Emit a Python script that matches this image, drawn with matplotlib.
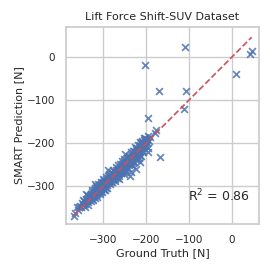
import matplotlib
matplotlib.use("Agg")
import matplotlib.pyplot as plt
import seaborn as sns

# ground truth vs predicted lift force [N]
ground_truth = [
    -368, -366, -360, -357, -352, -350, -348, -345, -343, -341,
    -339, -337, -336, -334, -333, -332, -331, -330, -330, -329,
    -328, -327, -326, -325, -324, -323, -322, -321, -320, -319,
    -318, -317, -316, -315, -314, -313, -312, -311, -310, -310,
    -309, -308, -307, -306, -305, -305, -304, -303, -302, -302,
    -301, -300, -300, -299, -298, -298, -297, -296, -295, -295,
    -294, -293, -292, -291, -290, -290, -289, -288, -287, -286,
    -286, -285, -284, -283, -282, -281, -280, -280, -279, -278,
    -277, -276, -275, -275, -274, -273, -272, -271, -270, -270,
    -269, -268, -267, -266, -265, -265, -264, -263, -262, -261,
    -260, -260, -259, -258, -257, -256, -255, -255, -254, -253,
    -252, -252, -251, -250, -250, -249, -248, -247, -246, -245,
    -245, -244, -243, -242, -241, -240, -240, -239, -238, -238,
    -237, -236, -235, -235, -234, -233, -232, -231, -230, -230,
    -229, -228, -227, -226, -225, -224, -224, -223, -222, -221,
    -220, -219, -218, -217, -216, -215, -214, -213, -212, -211,
    -210, -209, -208, -207, -206, -205, -204, -203, -202, -200,
    -199, -198, -196, -195, -193, -191,
    -362, -355, -347, -344, -338, -335, -327, -325, -320, -318,
    -315, -312, -308, -306, -303, -300, -297, -294, -291, -288,
    -285, -283, -280, -277, -274, -271, -268, -266, -263, -261,
    -258, -256, -253, -251, -248, -246, -243, -241, -238, -236,
    -233, -231, -228, -226, -222, -220, -218, -215, -212, -210,
    -207, -204, -200, -197, -235, -214, -290, -320, -340, -250,
    -205, -179, -177, -195, -111, -107, -170, -203, -109, 10,
    42, 46, -167,
]
prediction = [
    -370, -362, -355, -350, -348, -340, -345, -336, -341, -330,
    -335, -328, -338, -326, -333, -322, -329, -318, -336, -325,
    -320, -331, -314, -322, -327, -310, -318, -324, -306, -315,
    -321, -309, -312, -318, -302, -308, -316, -305, -311, -298,
    -303, -314, -300, -307, -296, -311, -302, -294, -306, -299,
    -290, -303, -296, -310, -292, -286, -300, -294, -305, -288,
    -296, -284, -291, -299, -282, -288, -293, -278, -286, -292,
    -280, -274, -287, -281, -290, -276, -284, -270, -279, -286,
    -272, -280, -266, -276, -283, -270, -277, -262, -273, -268,
    -279, -264, -270, -258, -272, -266, -261, -276, -255, -265,
    -262, -270, -252, -259, -266, -250, -257, -262, -247, -255,
    -268, -251, -243, -256, -249, -262, -244, -253, -240, -250,
    -258, -245, -236, -248, -241, -252, -232, -244, -277, -238,
    -247, -229, -241, -250, -234, -224, -243, -236, -228, -246,
    -219, -232, -238, -224, -215, -260, -229, -221, -234, -212,
    -225, -218, -208, -228, -214, -205, -220, -210, -200, -216,
    -206, -198, -212, -203, -194, -208, -200, -192, -205, -196,
    -190, -201, -212, -220, -195, -186,
    -350, -346, -332, -350, -322, -344, -310, -334, -328, -300,
    -326, -296, -320, -292, -314, -284, -310, -280, -305, -272,
    -296, -268, -292, -262, -288, -256, -282, -252, -284, -248,
    -270, -242, -272, -238, -262, -234, -258, -230, -250, -222,
    -252, -218, -244, -210, -240, -204, -236, -198, -230, -195,
    -222, -188, -206, -184, -268, -244, -262, -296, -318, -226,
    -189, -178, -170, -141, -122, -80, -80, -19, 23, -40,
    6, 13, -232,
]
r2_text = "R$^2$ = 0.86"

sns.set_theme(style="whitegrid")
plt.rcParams['font.family'] = ['DejaVu Sans']

fig = plt.figure(figsize=(2.72, 2.72), dpi=100)
ax = fig.add_axes([0.243, 0.176, 0.709, 0.725])

ax.scatter(ground_truth, prediction, marker='x', s=24, linewidths=1.25,
           color='#4C72B0', alpha=0.85, zorder=2)

lo = min(ground_truth)
hi = max(ground_truth)
ax.plot([lo, hi], [lo, hi], linestyle='--', color='#d0505a', lw=1.2, zorder=3)

ax.set_xlim(-387, 63)
ax.set_ylim(-389, 70)
ax.set_xticks([-300, -200, -100, 0])
ax.set_yticks([-300, -200, -100, 0])
ax.tick_params(labelsize=7.5, pad=2)

ax.set_title('Lift Force Shift-SUV Dataset', fontsize=8, pad=5)
ax.set_xlabel('Ground Truth [N]', fontsize=8, labelpad=2)
ax.set_ylabel('SMART Prediction [N]', fontsize=8, labelpad=2)

ax.text(0.955, 0.1, r2_text, transform=ax.transAxes, ha='right', va='bottom',
        fontsize=9)

fig.savefig('out.png', dpi=100)
